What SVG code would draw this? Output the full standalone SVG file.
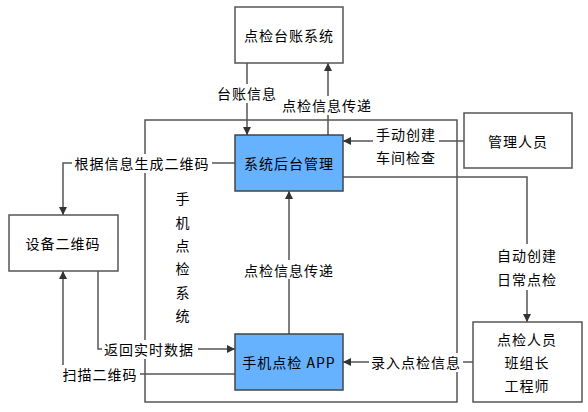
<svg xmlns="http://www.w3.org/2000/svg" width="588" height="412" viewBox="0 0 588 412">
<defs>
<style>
.n{fill:#fff;stroke:#555;stroke-width:1.5}
.b{fill:#66b2ff;stroke:#444;stroke-width:1.5}
.c{fill:none;stroke:#555;stroke-width:1.5}
text{font-family:"Noto Sans CJK SC","Liberation Sans",sans-serif;font-size:14px;fill:#000;text-anchor:middle;dominant-baseline:central;letter-spacing:1px}
.bg{fill:#fff;stroke:none}
</style>
<marker id="a" viewBox="0 0 10 10" refX="10" refY="5" markerWidth="8" markerHeight="8" markerUnits="userSpaceOnUse" orient="auto">
<path d="M0,0 L10,5 L0,10 z" fill="#333"/>
</marker>
</defs>
<rect width="588" height="412" fill="#fff"/>
<g id="container">
<rect class="c" x="145" y="120" width="312" height="282"/>
</g>
<g id="connectors">
<path class="c" d="M247,63 V135" marker-end="url(#a)"/>
<path class="c" d="M328,135 V63" marker-end="url(#a)"/>
<path class="c" d="M464,141 H343" marker-end="url(#a)"/>
<path class="c" d="M235,163 H63 V215" marker-end="url(#a)"/>
<path class="c" d="M343,177 H527 V322" marker-end="url(#a)"/>
<path class="c" d="M289,334 V191" marker-end="url(#a)"/>
<path class="c" d="M98,271 V349 H235" marker-end="url(#a)"/>
<path class="c" d="M235,374 H63 V271" marker-end="url(#a)"/>
<path class="c" d="M473,362 H343" marker-end="url(#a)"/>
<rect class="bg" x="215" y="84" width="64" height="19"/>
<text x="247" y="93">台账信息</text>
<rect class="bg" x="280" y="96" width="94" height="19"/>
<text x="327" y="105">点检信息传递</text>
<rect class="bg" x="373" y="125" width="66" height="42"/>
<text x="406" y="134">手动创建</text>
<text x="406" y="157">车间检查</text>
<rect class="bg" x="72" y="154" width="140" height="19"/>
<text x="142" y="163">根据信息生成二维码</text>
<rect class="bg" x="494" y="244" width="66" height="46"/>
<text x="527" y="255">自动创建</text>
<text x="527" y="279">日常点检</text>
<rect class="bg" x="243" y="260" width="94" height="19"/>
<text x="289" y="270">点检信息传递</text>
<rect class="bg" x="102" y="340" width="96" height="19"/>
<text x="149" y="349">返回实时数据</text>
<rect class="bg" x="60" y="365" width="80" height="19"/>
<text x="100" y="374">扫描二维码</text>
<rect class="bg" x="369" y="353" width="94" height="19"/>
<text x="416" y="362">录入点检信息</text>
<g id="vlabel">
<text x="183" y="198">手</text>
<text x="183" y="222">机</text>
<text x="183" y="245">点</text>
<text x="183" y="268">检</text>
<text x="183" y="292">系</text>
<text x="183" y="315">统</text>
</g>
</g>
<g id="ledger">
<rect class="n" x="235" y="7" width="108" height="56"/>
<text x="289" y="35">点检台账系统</text>
</g>
<g id="backend">
<rect class="b" x="235" y="135" width="108" height="56"/>
<text x="289" y="163">系统后台管理</text>
</g>
<g id="app">
<rect class="b" x="235" y="334" width="108" height="56"/>
<text x="289" y="362">手机点检 APP</text>
</g>
<g id="qrcode">
<rect class="n" x="9" y="215" width="109" height="56"/>
<text x="63" y="243">设备二维码</text>
</g>
<g id="manager">
<rect class="n" x="464" y="113" width="108" height="55"/>
<text x="518" y="141">管理人员</text>
</g>
<g id="staff">
<rect class="n" x="473" y="322" width="109" height="80"/>
<text x="527" y="339">点检人员</text>
<text x="527" y="362">班组长</text>
<text x="527" y="385">工程师</text>
</g>
</svg>
